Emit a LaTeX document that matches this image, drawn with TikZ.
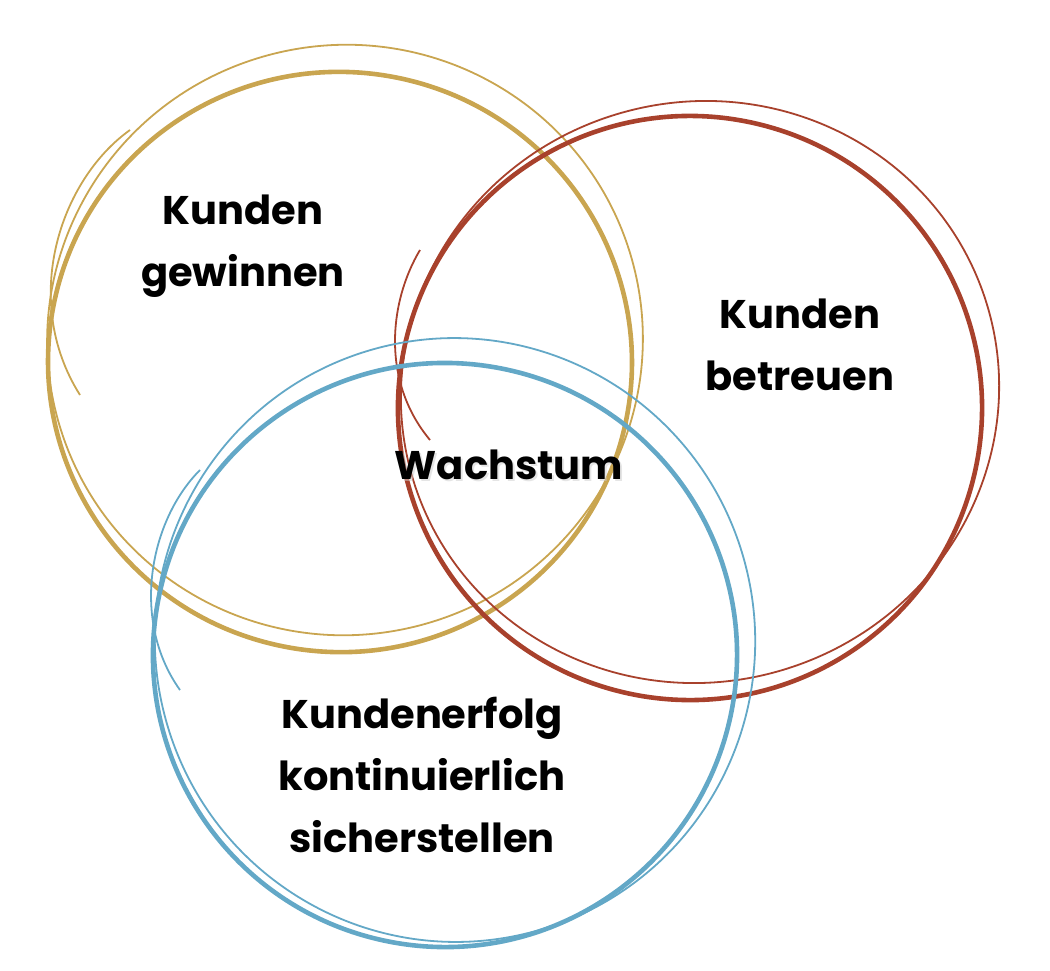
\documentclass[tikz,border=0pt]{standalone}
\usepackage{fontspec}
\setmainfont{Poppins}
\definecolor{gold}{HTML}{C9A550}
\definecolor{rust}{HTML}{A8412C}
\definecolor{sky}{HTML}{63A8C7}
\begin{document}
\begin{tikzpicture}[x=0.5pt,y=-0.5pt,
  lbl/.style={font=\fontsize{20}{31}\selectfont\bfseries,align=center,text=black},
  thick1/.style={line width=2.3pt},
  thin1/.style={line width=0.9pt}]
\useasboundingbox (0,0) rectangle (1050,970);
% gold
\draw[gold,thick1,rotate around={-12:(340,362)}] (340,362) ellipse (292 and 290);
\draw[gold,thin1,rotate around={15:(345,340)}] (345,340) ellipse (298 and 295);
\draw[gold,thin1] (80,395) .. controls (20,300) and (60,180) .. (130,130);
% rust
\draw[rust,thick1,rotate around={-15:(690,408)}] (690,408) ellipse (292 and 292);
\draw[rust,thin1,rotate around={18:(700,392)}] (700,392) ellipse (300 and 290);
\draw[rust,thin1] (430,440) .. controls (380,380) and (390,300) .. (420,250);
% sky
\draw[sky,thick1,rotate around={-12:(445,655)}] (445,655) ellipse (292 and 292);
\draw[sky,thin1,rotate around={15:(455,640)}] (455,640) ellipse (300 and 302);
\draw[sky,thin1] (180,690) .. controls (130,620) and (150,520) .. (200,470);
% labels
\node[lbl] (a) at (243,246) {Kunden\\gewinnen};
\node[lbl] (b) at (800,345) {Kunden\\betreuen};
\node[lbl] (c) at (422,775) {Kundenerfolg\\kontinuierlich\\sicherstellen};
\node[lbl,text=black!20,opacity=0.5] at (511,467) {Wachstum};
\node[lbl] (w) at (509,465) {Wachstum};
\end{tikzpicture}
\end{document}
